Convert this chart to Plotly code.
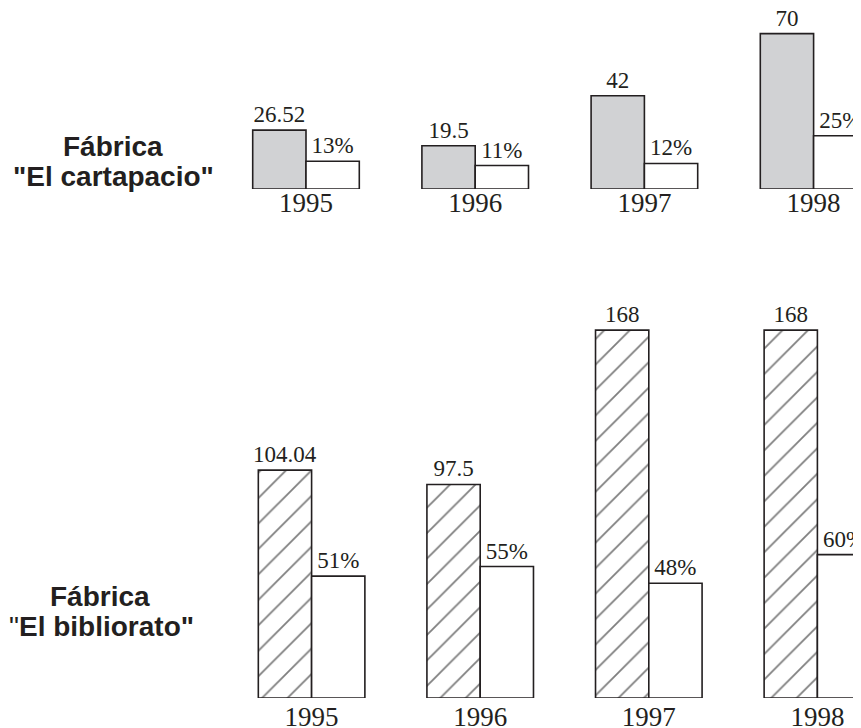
import plotly.graph_objects as go

# ---- data ----
years = ["1995", "1996", "1997", "1998"]
cartapacio_values = [26.52, 19.5, 42, 70]
cartapacio_pct = [13, 11, 12, 25]
bibliorato_values = [104.04, 97.5, 168, 168]
bibliorato_pct = [51, 55, 48, 60]
label_top = ["Fábrica", "\"El cartapacio\""]
label_bottom = ["Fábrica", "\"El bibliorato\""]

INK = "#231f20"
GREY = "#d1d2d4"
W, H = 861, 728
OFF = 8  # page body margin offset of the figure in the browser window
serif = "Liberation Serif"
sans = "Liberation Sans"


def fx(px):
    return (px - OFF) / W


def fy(px):
    return (H - (px - OFF)) / H


fig = go.Figure()

common = dict(
    textposition="outside",
    constraintext="none",
    cliponaxis=False,
    textfont=dict(family=serif, size=23, color=INK),
    showlegend=False,
    hoverinfo="skip",
)

# top panel
fig.add_trace(go.Bar(
    x=years, y=cartapacio_values, text=[str(v) for v in cartapacio_values],
    xaxis="x", yaxis="y", width=0.315, offset=-0.315,
    marker=dict(color=GREY, line=dict(color=INK, width=1.6)), **common))
fig.add_trace(go.Bar(
    x=years, y=cartapacio_pct, text=[f"{v}%" for v in cartapacio_pct],
    xaxis="x", yaxis="y2", width=0.315, offset=0,
    marker=dict(color="white", line=dict(color=INK, width=1.6)), **common))

# bottom panel
fig.add_trace(go.Bar(
    x=years, y=bibliorato_values, text=[str(v) for v in bibliorato_values],
    xaxis="x2", yaxis="y3", width=0.316, offset=-0.316,
    marker=dict(color="white", line=dict(color=INK, width=1.6),
                pattern=dict(shape="/", size=18, solidity=0.1,
                             fgcolor="#000000", bgcolor="white", fillmode="overlay")),
    **common))
fig.add_trace(go.Bar(
    x=years, y=bibliorato_pct, text=[f"{v}%" for v in bibliorato_pct],
    xaxis="x2", yaxis="y4", width=0.316, offset=0,
    marker=dict(color="white", line=dict(color=INK, width=1.6)), **common))

xcommon = dict(type="category", showgrid=False, zeroline=False, showline=False,
               ticks="", tickfont=dict(family=serif, size=27, color=INK),
               fixedrange=True)
ycommon = dict(visible=False, showgrid=False, zeroline=False, fixedrange=True)

# window-pixel geometry
top_base = 189          # baseline of top panel
top_c0, top_step = 306, 169.2
bot_base = 698
bot_top = 300
bot_c0, bot_step = 311.6, 168.6

top_left = top_c0 - top_step / 2
bot_left = bot_c0 - bot_step / 2
right_edge = W + OFF   # figure right edge in window pixels

fig.update_layout(
    width=W, height=H,
    margin=dict(l=0, r=0, t=0, b=0),
    paper_bgcolor="white", plot_bgcolor="white",
    barmode="overlay",
    xaxis=dict(domain=[fx(top_left), 1], ticklabelstandoff=-5,
               range=[-0.5, (right_edge - top_c0) / top_step], anchor="y", **xcommon),
    yaxis=dict(domain=[fy(top_base), 1], range=[0, (top_base - OFF) / 2.22],
               anchor="x", **ycommon),
    yaxis2=dict(overlaying="y", range=[0, (top_base - OFF) / 2.13], anchor="x", **ycommon),
    xaxis2=dict(domain=[fx(bot_left), 1],
                range=[-0.5, (right_edge - bot_c0) / bot_step], anchor="y3", **xcommon),
    yaxis3=dict(domain=[fy(bot_base), fy(bot_top)], range=[0, (bot_base - bot_top) / 2.19],
                anchor="x2", **ycommon),
    yaxis4=dict(overlaying="y3", range=[0, (bot_base - bot_top) / 2.39], anchor="x2", **ycommon),
)

lab_font = dict(family=sans, size=28, color=INK)
annos = [
    (113, 146.7, "<b>" + label_top[0] + "</b>"),
    (113, 176.7, "<b>" + label_top[1] + "</b>"),
    (100, 596.7, "<b>" + label_bottom[0] + "</b>"),
    (101, 626.7, "\"<b>" + label_bottom[1][1:] + "</b>"),
]
for x, y, t in annos:
    fig.add_annotation(x=fx(x), y=fy(y), xref="paper", yref="paper", text=t,
                       showarrow=False, xanchor="center", yanchor="middle", font=lab_font)

fig.write_html("out.html")
